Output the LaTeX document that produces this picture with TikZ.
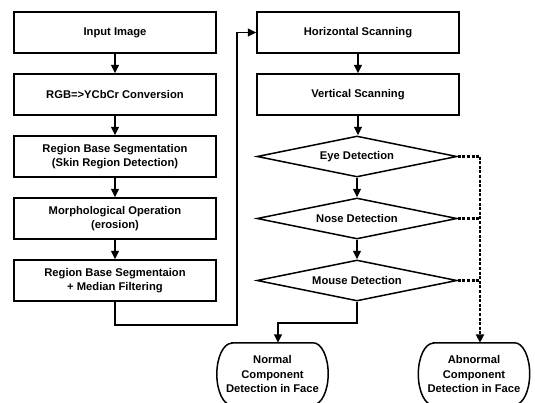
\documentclass[tikz,border=0pt]{standalone}
\usepackage{fontspec}
\setmainfont{Liberation Sans}
\usetikzlibrary{shapes.geometric,arrows.meta}
\begin{document}
\begin{tikzpicture}[x=1pt,y=-1pt,
  every node/.style={font=\bfseries\fontsize{11.2}{14.2}\selectfont,align=center},
  stepbox/.style={draw,line width=1.5pt,minimum width=202pt,minimum height=41pt,inner sep=0pt},
  decide/.style={diamond,draw,line width=1.5pt,aspect=5,minimum width=200pt,minimum height=41pt,inner sep=0pt},
  term/.style={minimum width=111pt,minimum height=62pt,inner sep=0pt},
  shapeline/.style={line width=1.5pt},
  arr/.style={line width=1.5pt,-{Triangle[length=8.5pt,width=8pt]}},
  dsh/.style={line width=2.3pt,dash pattern=on 3pt off 1.6pt}]
\useasboundingbox (0,0) rectangle (535,402);
\clip (0,0) rectangle (535,402);
% left column
\node[stepbox] (in) at (115,32.5) {Input Image};
\node[stepbox] (rgb) at (115,94.5) {RGB=>YCbCr Conversion};
\node[stepbox] (seg) at (115,156.5) {Region Base Segmentation\\(Skin Region Detection)};
\node[stepbox] (mor) at (115,218.5) {Morphological Operation\\(erosion)};
\node[stepbox] (med) at (115,280.5) {Region Base Segmentaion\\+ Median Filtering};
% right column
\node[stepbox] (hs) at (358,32.5) {Horizontal Scanning};
\node[stepbox] (vs) at (358,94.5) {Vertical Scanning};
\node[decide] (eye) at (357,156.5) {Eye Detection};
\node[decide] (nose) at (357,218.5) {Nose Detection};
\node[decide] (mouse) at (357,280.5) {Mouse Detection};
% terminals
\node[term] (normal) at (272.5,374) {Normal\\Component\\Detection in Face};
\node[term] (abn) at (474,374) {Abnormal\\Component\\Detection in Face};
\foreach \t in {normal,abn}{
  \draw[shapeline] ([xshift=15pt]\t.north west) -- ([xshift=-15pt]\t.north east)
    arc[start angle=90,end angle=-90,x radius=15pt,y radius=31pt]
    -- ([xshift=15pt]\t.south west)
    arc[start angle=270,end angle=90,x radius=15pt,y radius=31pt] -- cycle;
}
% coordinates
\coordinate (lc) at (237,325);
\coordinate (nc) at (278,323);
\coordinate (dc) at (480,156.5);
% connectors
\draw[arr] (in) -- (rgb);
\draw[arr] (rgb) -- (seg);
\draw[arr] (seg) -- (mor);
\draw[arr] (mor) -- (med);
\draw[arr] (med.south) |- (lc) |- (hs.west);
\draw[arr] (hs) -- (vs);
\draw[arr] (vs.south) -- (vs.south |- eye.north);
\draw[arr] (eye.south) -- (nose.north);
\draw[arr] (nose.south) -- (mouse.north);
\draw[arr] (mouse.south) |- (nc) -- (nc |- normal.north);
\draw[dsh] (eye.east) -- (dc);
\draw[dsh] (nose.east) -- (nose.east -| dc);
\draw[dsh] (mouse.east) -- (mouse.east -| dc);
\draw[dsh,-{Triangle[length=8.5pt,width=8pt]}] (dc) -- (dc |- abn.north);
\end{tikzpicture}
\end{document}
